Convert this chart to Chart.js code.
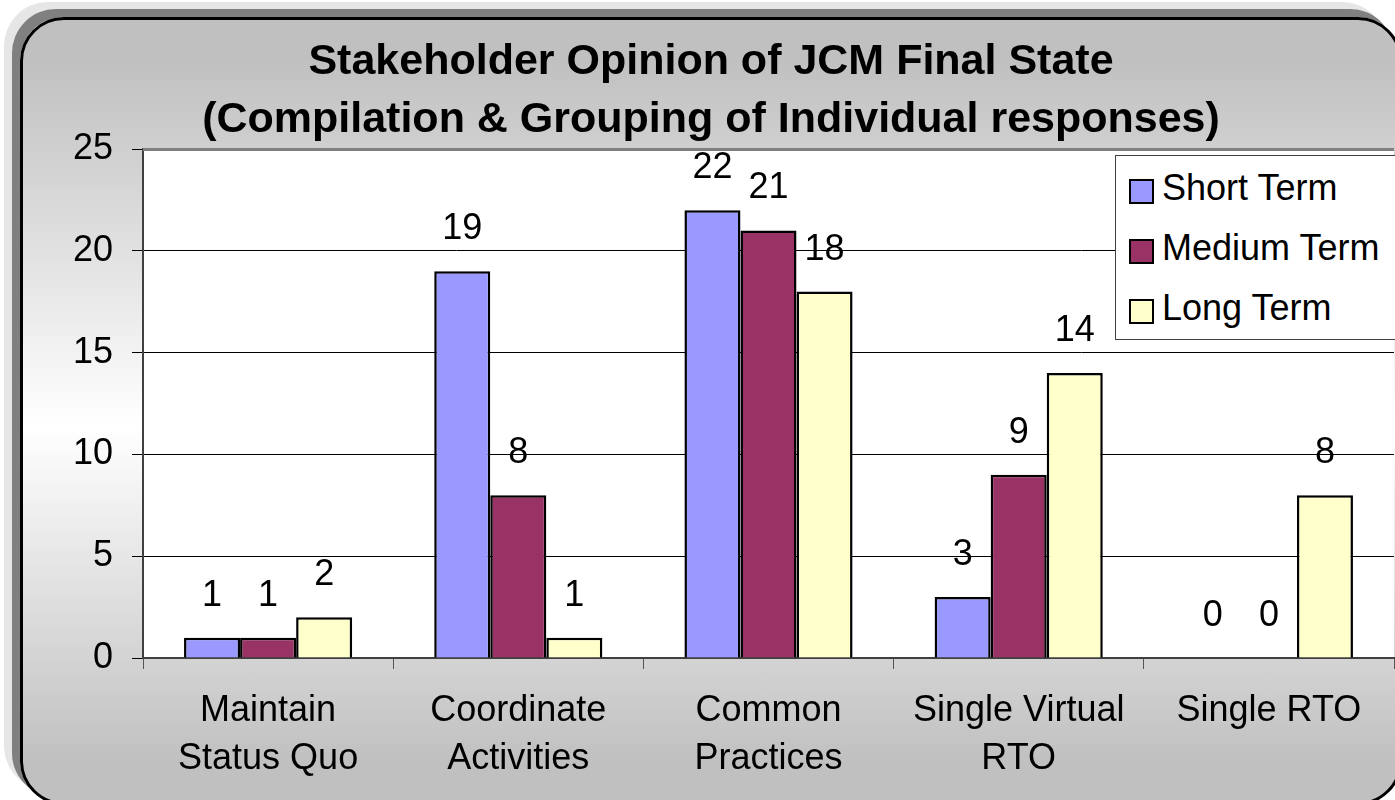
<!DOCTYPE html>
<html>
<head>
<meta charset="utf-8">
<script src="https://cdn.jsdelivr.net/npm/chart.js@4.4.1/dist/chart.umd.min.js"></script>
<style>
  html, body { margin: 0; padding: 0; background: #fff; overflow: hidden; }
  #stage { position: relative; width: 1395px; height: 800px; overflow: hidden; }
  #frame {
    position: absolute; left: 20px; top: 17px; width: 1382px; height: 788px;
    box-sizing: border-box; border: 3px solid #000; border-radius: 44px;
    background: linear-gradient(to bottom, #c0c0c0 5%, #ffffff 52%, #c0c0c0 95%);
    box-shadow: -8px -8px 0 0 #808080, -16px -15px 0 0 #e6e6e6;
  }
  #chart { position: absolute; left: 0; top: 0; }
  #legend {
    position: absolute; left: 1115px; top: 155px; width: 300px; height: 185px;
    box-sizing: border-box; border: 1px solid #404040; background: #fff;
    font: 36px "Liberation Sans", Arial, sans-serif; color: #000;
  }
  .lg-row { position: absolute; left: 0; height: 60px; display: flex; align-items: center; }
  .lg-box { width: 21px; height: 21px; border: 2px solid #000; margin: 6px 8px 0 13px; }
</style>
</head>
<body>
<div id="stage">
  <div id="frame"></div>
  <canvas id="chart" width="1395" height="800"></canvas>
  <div id="legend"></div>
</div>
<script>
// ── Data ──────────────────────────────────────────────────────────────────
const categories = [
  ['Maintain', 'Status Quo'],
  ['Coordinate', 'Activities'],
  ['Common', 'Practices'],
  ['Single Virtual', 'RTO'],
  ['Single RTO']
];
const seriesNames  = ['Short Term', 'Medium Term', 'Long Term'];
const shortTerm    = [1, 19, 22, 3, 0];
const mediumTerm   = [1, 8, 21, 9, 0];
const longTerm     = [2, 1, 18, 14, 8];
const seriesColors = ['#9999FF', '#993366', '#FFFFCC'];
const yTicks       = [0, 5, 10, 15, 20, 25];

const FONT = '"Liberation Sans", Arial, sans-serif';
const values = [shortTerm, mediumTerm, longTerm];

// white plot area + grey top border
const plotArea = {
  id: 'plotArea',
  beforeDraw(chart) {
    const { ctx, chartArea: a } = chart;
    ctx.save();
    ctx.fillStyle = '#fff';
    ctx.fillRect(a.left, a.top, a.right - a.left, a.bottom - a.top);
    ctx.restore();
  },
  beforeDatasetsDraw(chart) {
    const { ctx, chartArea: a } = chart;
    ctx.save();
    ctx.strokeStyle = '#808080';
    ctx.lineWidth = 3;
    ctx.beginPath();
    ctx.moveTo(a.left, a.top + 0.5);
    ctx.lineTo(a.right, a.top + 0.5);
    ctx.stroke();
    ctx.restore();
  }
};

// value labels above each bar
const barLabels = {
  id: 'barLabels',
  afterDatasetsDraw(chart) {
    const { ctx } = chart;
    ctx.save();
    ctx.font = '36px ' + FONT;
    ctx.fillStyle = '#000';
    ctx.textAlign = 'center';
    ctx.textBaseline = 'middle';
    chart.data.datasets.forEach((ds, i) => {
      chart.getDatasetMeta(i).data.forEach((bar, j) => {
        ctx.fillText(String(ds.data[j]), bar.x, bar.y - 42);
      });
    });
    ctx.restore();
  }
};

new Chart(document.getElementById('chart'), {
  type: 'bar',
  data: {
    labels: categories,
    datasets: seriesNames.map((name, i) => ({
      label: name,
      data: values[i],
      backgroundColor: seriesColors[i],
      borderColor: '#000',
      borderWidth: 2.5,
      categoryPercentage: 0.672,
      barPercentage: 1
    }))
  },
  options: {
    responsive: false,
    animation: false,
    layout: { padding: { left: 28, right: 1, top: 0, bottom: 0 } },
    plugins: {
      legend: { display: false },
      tooltip: { enabled: false },
      title: {
        display: true,
        text: ['Stakeholder Opinion of JCM Final State', '(Compilation & Grouping of Individual responses)'],
        color: '#000',
        font: { family: FONT, size: 43, weight: 'bold', lineHeight: 1.35 },
        padding: { top: 33, bottom: 0 }
      }
    },
    scales: {
      x: {
        offset: true,
        grid: { display: true, offset: true, drawOnChartArea: false, tickLength: 11, color: '#555', lineWidth: 1 },
        border: { display: true, color: '#404040', width: 2 },
        ticks: {
          color: '#000', padding: 18, maxRotation: 0, autoSkip: false,
          font: { family: FONT, size: 36, lineHeight: 1.333 }
        },
        afterFit(scale) { scale.height = 142; }
      },
      y: {
        min: 0, max: 25,
        afterBuildTicks(scale) { scale.ticks = yTicks.map(v => ({ value: v })); },
        grid: { color: '#000', lineWidth: 1, tickLength: 11 },
        border: { display: true, color: '#404040', width: 2 },
        ticks: { color: '#000', padding: 19, font: { family: FONT, size: 36 } },
        afterFit(scale) { scale.width = 115; }
      }
    }
  },
  plugins: [plotArea, barLabels]
});

// legend box (drawn in HTML so it can sit over the plot like the original)
const legend = document.getElementById('legend');
seriesNames.forEach((name, i) => {
  const row = document.createElement('div');
  row.className = 'lg-row';
  row.style.top = (2 + i * 60) + 'px';
  row.innerHTML = `<span class="lg-box" style="background:${seriesColors[i]}"></span><span>${name}</span>`;
  legend.appendChild(row);
});
</script>
</body>
</html>
